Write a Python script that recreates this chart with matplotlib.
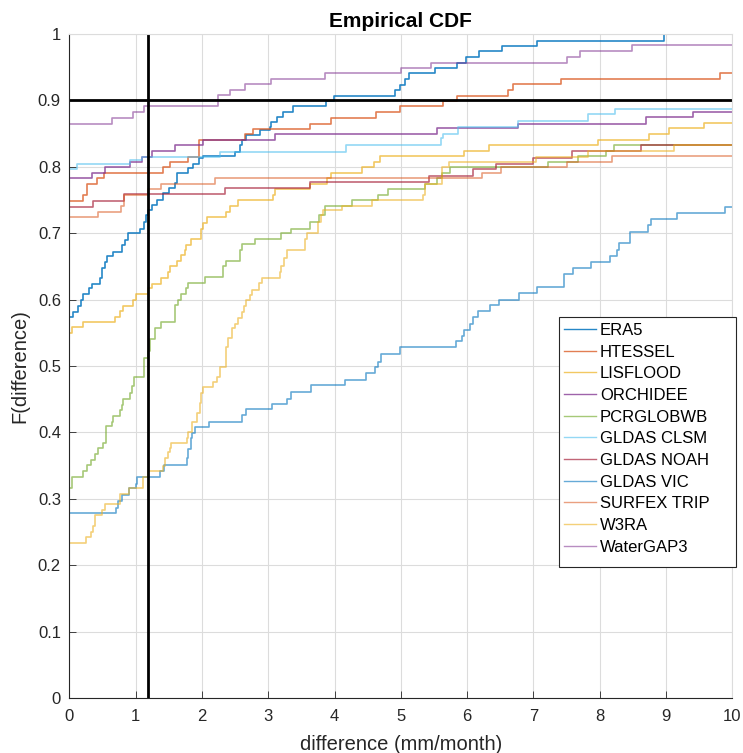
import numpy as np
import matplotlib
matplotlib.use("Agg")
import matplotlib.pyplot as plt
from matplotlib.patches import Rectangle

plt.rcParams['font.family'] = ['Liberation Sans', 'DejaVu Sans']

# Step-Punkte (x ab dem der Wert gilt, F-Wert)
era5_x = [0, 0.06, 0.136, 0.17, 0.21, 0.29, 0.34, 0.46, 0.50, 0.54, 0.57, 0.66, 0.79, 0.84, 0.89,
          1.07, 1.12, 1.16, 1.19, 1.24, 1.32, 1.42, 1.50, 1.59, 1.63, 1.79, 1.87, 1.95, 2.02, 2.50,
          2.57, 2.61, 2.67, 2.87, 3.02, 3.04, 3.13, 3.22, 3.38, 3.87, 3.99, 4.91, 4.99, 5.06, 5.13,
          5.51, 5.84, 5.98, 6.18, 6.52, 7.06, 8.97]
era5_F = [0.574, 0.582, 0.590, 0.599, 0.608, 0.617, 0.624, 0.632, 0.647, 0.657, 0.665, 0.672, 0.682, 0.690, 0.700,
          0.707, 0.717, 0.727, 0.735, 0.743, 0.750, 0.760, 0.768, 0.775, 0.790, 0.798, 0.805, 0.813, 0.816, 0.823,
          0.833, 0.840, 0.848, 0.855, 0.860, 0.868, 0.875, 0.882, 0.891, 0.899, 0.907, 0.916, 0.923, 0.932, 0.941,
          0.949, 0.957, 0.966, 0.974, 0.982, 0.990, 1.0]

htessel_x = [0, 0.21, 0.26, 0.41, 0.53, 1.42, 1.52, 1.79, 1.96, 2.65, 2.77, 3.63, 3.95, 4.63, 4.99,
             5.63, 5.84, 6.62, 6.69, 7.42, 9.82]
htessel_F = [0.749, 0.758, 0.774, 0.783, 0.791, 0.799, 0.808, 0.815, 0.841, 0.849, 0.857, 0.865, 0.874, 0.882, 0.891,
             0.899, 0.907, 0.916, 0.924, 0.932, 0.941]

lisflood_x = [0, 0.035, 0.21, 0.69, 0.76, 0.81, 0.96, 1.0, 1.18, 1.24, 1.39, 1.49, 1.52, 1.62, 1.69,
              1.74, 1.76, 1.84, 1.98, 2.02, 2.07, 2.36, 2.42, 2.55, 3.07, 3.10, 3.63, 3.88, 3.95, 4.41,
              4.59, 4.68, 5.95, 6.33, 7.97, 8.75, 9.05, 9.57]
lisflood_F = [0.550, 0.559, 0.567, 0.574, 0.583, 0.590, 0.599, 0.608, 0.617, 0.624, 0.633, 0.642, 0.650, 0.658, 0.667,
              0.675, 0.682, 0.691, 0.707, 0.715, 0.725, 0.732, 0.741, 0.750, 0.758, 0.766, 0.774, 0.783, 0.791, 0.799,
              0.808, 0.816, 0.824, 0.833, 0.841, 0.849, 0.858, 0.866]

orchidee_x = [0, 0.34, 0.54, 0.92, 1.09, 1.24, 1.59, 2.02, 3.10, 5.54, 6.77, 8.70, 9.41]
orchidee_F = [0.783, 0.791, 0.799, 0.807, 0.815, 0.824, 0.833, 0.841, 0.849, 0.858, 0.865, 0.875, 0.882]

pcr_x = [0, 0.035, 0.20, 0.26, 0.33, 0.39, 0.44, 0.51, 0.55, 0.56, 0.64, 0.66, 0.76, 0.80, 0.81,
         0.92, 0.95, 0.97, 1.12, 1.18, 1.22, 1.29, 1.39, 1.59, 1.64, 1.69, 1.76, 1.79, 2.05, 2.32,
         2.36, 2.57, 2.60, 2.80, 3.20, 3.35, 3.63, 3.76, 3.86, 4.26, 4.66, 4.81, 5.36, 5.55, 5.62,
         5.74, 7.22, 7.67, 8.10, 8.22]
pcr_F = [0.316, 0.333, 0.342, 0.351, 0.359, 0.367, 0.376, 0.384, 0.392, 0.409, 0.416, 0.425, 0.434, 0.441, 0.450,
         0.459, 0.470, 0.484, 0.512, 0.522, 0.540, 0.557, 0.567, 0.592, 0.599, 0.609, 0.617, 0.625, 0.634, 0.650,
         0.658, 0.675, 0.684, 0.691, 0.700, 0.707, 0.717, 0.727, 0.741, 0.750, 0.758, 0.766, 0.774, 0.783, 0.791,
         0.799, 0.808, 0.816, 0.824, 0.833]

clsm_x = [0, 0.11, 0.92, 1.10, 2.28, 4.18, 5.60, 5.64, 5.86, 6.77, 7.82, 8.23]
clsm_F = [0.796, 0.805, 0.810, 0.815, 0.823, 0.833, 0.843, 0.850, 0.860, 0.869, 0.879, 0.887]

noah_x = [0, 0.36, 0.83, 2.35, 3.63, 5.43, 6.09, 6.43, 7.00, 7.58, 8.62]
noah_F = [0.740, 0.749, 0.759, 0.768, 0.777, 0.786, 0.796, 0.805, 0.814, 0.824, 0.833]

vic_x = [0, 0.70, 0.74, 0.79, 0.90, 1.00, 1.02, 1.37, 1.43, 1.77, 1.79, 1.83, 1.85, 1.89, 2.10,
         2.61, 2.66, 3.06, 3.29, 3.34, 3.64, 4.16, 4.47, 4.61, 4.66, 4.70, 4.99, 5.83, 5.92, 5.95,
         6.04, 6.09, 6.17, 6.35, 6.48, 6.79, 7.05, 7.46, 7.60, 7.87, 8.16, 8.26, 8.29, 8.45, 8.73,
         8.78, 9.16, 9.89]
vic_F = [0.278, 0.286, 0.296, 0.306, 0.316, 0.323, 0.333, 0.342, 0.351, 0.361, 0.375, 0.391, 0.399, 0.408, 0.416,
         0.426, 0.435, 0.443, 0.451, 0.461, 0.471, 0.479, 0.489, 0.498, 0.506, 0.518, 0.528, 0.537, 0.545, 0.554,
         0.563, 0.574, 0.583, 0.592, 0.600, 0.610, 0.619, 0.639, 0.647, 0.657, 0.666, 0.675, 0.685, 0.702, 0.712,
         0.722, 0.731, 0.740]

surfex_x = [0, 0.44, 0.78, 0.83, 1.19, 1.39, 2.19, 6.22, 6.51, 7.50, 8.19]
surfex_F = [0.724, 0.732, 0.741, 0.758, 0.766, 0.774, 0.783, 0.791, 0.799, 0.808, 0.816]

w3ra_x = [0, 0.25, 0.32, 0.35, 0.39, 0.50, 0.54, 0.76, 0.77, 0.90, 1.11, 1.19, 1.42, 1.44, 1.49,
          1.52, 1.53, 1.77, 1.79, 1.85, 1.92, 1.97, 1.99, 2.01, 2.17, 2.22, 2.27, 2.36, 2.37, 2.40,
          2.45, 2.50, 2.55, 2.60, 2.63, 2.67, 2.72, 2.76, 2.86, 2.90, 3.18, 3.20, 3.24, 3.28, 3.55,
          3.58, 3.75, 3.79, 3.83, 4.11, 4.56, 5.34, 5.36, 5.62, 5.72, 7.04, 7.82, 9.12]
w3ra_F = [0.234, 0.243, 0.250, 0.259, 0.276, 0.283, 0.292, 0.301, 0.308, 0.317, 0.333, 0.342, 0.349, 0.361, 0.371,
          0.376, 0.384, 0.391, 0.400, 0.416, 0.429, 0.444, 0.459, 0.468, 0.476, 0.484, 0.499, 0.514, 0.529, 0.542,
          0.557, 0.564, 0.572, 0.582, 0.590, 0.599, 0.607, 0.614, 0.625, 0.632, 0.642, 0.650, 0.662, 0.675, 0.691,
          0.700, 0.717, 0.727, 0.735, 0.741, 0.750, 0.758, 0.774, 0.799, 0.808, 0.815, 0.824, 0.833]

wg3_x = [0, 0.64, 0.955, 1.12, 2.24, 2.42, 2.65, 3.04, 3.85, 5.01, 5.46, 7.50, 7.70, 8.49]
wg3_F = [0.865, 0.874, 0.882, 0.891, 0.908, 0.916, 0.924, 0.932, 0.941, 0.949, 0.957, 0.966, 0.974, 0.983]

modelle = ["ERA5", "HTESSEL", "LISFLOOD", "ORCHIDEE", "PCRGLOBWB", "GLDAS CLSM",
           "GLDAS NOAH", "GLDAS VIC", "SURFEX TRIP", "W3RA", "WaterGAP3"]
kurven = [(era5_x, era5_F), (htessel_x, htessel_F), (lisflood_x, lisflood_F),
          (orchidee_x, orchidee_F), (pcr_x, pcr_F), (clsm_x, clsm_F), (noah_x, noah_F),
          (vic_x, vic_F), (surfex_x, surfex_F), (w3ra_x, w3ra_F), (wg3_x, wg3_F)]

# MATLAB Standardfarben
farben = ["#0072BD", "#D95319", "#EDB120", "#7E2F8E", "#77AC30", "#4DBEEE",
          "#A2142F", "#0072BD", "#D95319", "#EDB120", "#7E2F8E"]
alphas = [0.85, 0.75, 0.7, 0.75, 0.65, 0.6, 0.65, 0.6, 0.55, 0.6, 0.55]

x_schwelle = 1.18
F_schwelle = 0.9

fig = plt.figure(figsize=(7.43, 7.53), dpi=100)
ax = fig.add_axes([0.0933, 0.073, 0.8923, 0.8818])

for name, (xs, Fs), c, a in zip(modelle, kurven, farben, alphas):
    xs = [-0.5] + list(xs)
    Fs = [Fs[0]] + list(Fs)
    if Fs[-1] < 1.0:
        xs = xs + [10.5]
        Fs = Fs + [Fs[-1]]
    ax.plot(xs, Fs, drawstyle="steps-post", color=c, alpha=a, lw=1.2, label=name)

ax.axvline(x_schwelle, color="black", lw=2)
ax.axhline(F_schwelle, color="black", lw=2)

ax.set_xlim(0, 10)
ax.set_ylim(0, 1)
ax.set_xticks(np.arange(0, 11, 1))
ax.set_yticks(np.arange(0, 1.01, 0.1))
ax.set_yticklabels(["0", "0.1", "0.2", "0.3", "0.4", "0.5", "0.6", "0.7", "0.8", "0.9", "1"])
ax.tick_params(direction="in", length=5, width=0.6, colors="#262626", labelsize=12,
               top=False, right=False)
ax.tick_params(axis="x", pad=8)
ax.tick_params(axis="y", pad=6)
ax.grid(True, color="#dcdcdc", lw=0.8)
ax.set_axisbelow(True)
for s in ["left", "bottom"]:
    ax.spines[s].set_color("#262626")
    ax.spines[s].set_linewidth(0.8)
for s in ["top", "right"]:
    ax.spines[s].set_color("#dcdcdc")
    ax.spines[s].set_linewidth(0.8)

ax.set_xlabel("difference (mm/month)", fontsize=14.5, color="#262626", labelpad=8)
ax.set_ylabel("F(difference)", fontsize=14.5, color="#262626", labelpad=6)
ax.set_title("Empirical CDF", fontsize=15, fontweight="bold", pad=5)

# Legende mit eigenem Rahmen (MATLAB hat rechts mehr Platz)
rahmen = Rectangle((0.739, 0.197), 0.266, 0.377, transform=ax.transAxes,
                   facecolor="white", edgecolor="#262626", lw=0.8, zorder=4, clip_on=False)
ax.add_patch(rahmen)
leg = ax.legend(loc="upper left", bbox_to_anchor=(0.741, 0.570), borderaxespad=0,
                fontsize=12, frameon=False, handlelength=1.95, handletextpad=0.2,
                labelspacing=0.40, borderpad=0.2)
leg.set_zorder(5)
for h in leg.get_lines():
    h.set_linewidth(1.0)

fig.savefig("out.png", dpi=100)
